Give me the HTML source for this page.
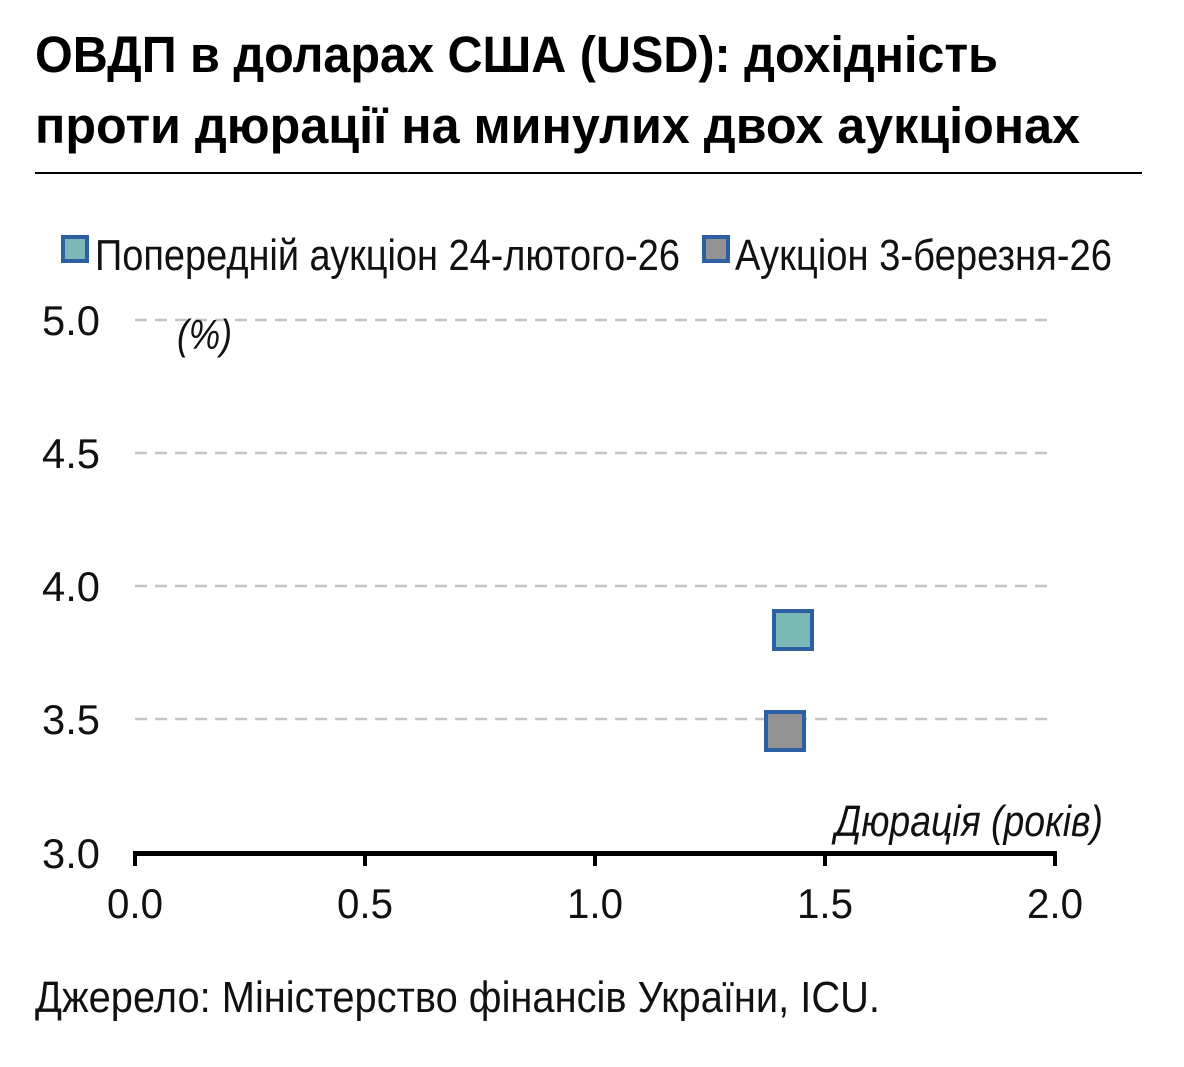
<!DOCTYPE html>
<html><head><meta charset="utf-8"><style>
html,body{margin:0;padding:0;background:#fff;}
svg{display:block;font-family:"Liberation Sans","DejaVu Sans",sans-serif;}
</style></head><body>
<svg width="1184" height="1067" viewBox="0 0 1184 1067" xmlns="http://www.w3.org/2000/svg">
<rect width="1184" height="1067" fill="#fff"/>
<text x="35" y="72" font-size="51" font-weight="bold" fill="#000" textLength="963" lengthAdjust="spacingAndGlyphs">ОВДП в доларах США (USD): дохідність</text>
<text x="35" y="143" font-size="51" font-weight="bold" fill="#000" textLength="1045" lengthAdjust="spacingAndGlyphs">проти дюрації на минулих двох аукціонах</text>
<rect x="35" y="172" width="1107" height="2" fill="#000"/>
<rect x="63" y="237" width="24" height="24" fill="#7ab8b6" stroke="#2e5fa3" stroke-width="4"/>
<text x="95" y="270" font-size="44" fill="#111" textLength="585" lengthAdjust="spacingAndGlyphs">Попередній аукціон 24-лютого-26</text>
<rect x="704" y="237" width="24" height="24" fill="#939393" stroke="#2e5fa3" stroke-width="4"/>
<text x="735" y="270" font-size="44" fill="#111" textLength="377" lengthAdjust="spacingAndGlyphs">Аукціон 3-березня-26</text>
<g stroke="#c4c4c4" stroke-width="2.5" stroke-dasharray="12,8">
<line x1="135" y1="320" x2="1055" y2="320"/>
<line x1="135" y1="453" x2="1055" y2="453"/>
<line x1="135" y1="586" x2="1055" y2="586"/>
<line x1="135" y1="719" x2="1055" y2="719"/>
</g>
<g font-size="42" fill="#111" text-anchor="end">
<text x="100" y="335" textLength="58" lengthAdjust="spacingAndGlyphs">5.0</text>
<text x="100" y="468" textLength="58" lengthAdjust="spacingAndGlyphs">4.5</text>
<text x="100" y="601" textLength="58" lengthAdjust="spacingAndGlyphs">4.0</text>
<text x="100" y="734" textLength="58" lengthAdjust="spacingAndGlyphs">3.5</text>
<text x="100" y="868" textLength="58" lengthAdjust="spacingAndGlyphs">3.0</text>
</g>
<text x="177" y="349" font-size="42" font-style="italic" fill="#111" textLength="55" lengthAdjust="spacingAndGlyphs">(%)</text>
<text x="835" y="836" font-size="44" font-style="italic" fill="#111" textLength="268" lengthAdjust="spacingAndGlyphs">Дюрація (років)</text>
<rect x="133" y="851" width="924" height="5" fill="#000"/>
<g stroke="#000" stroke-width="4">
<line x1="135" y1="851" x2="135" y2="866"/>
<line x1="365" y1="851" x2="365" y2="866"/>
<line x1="595" y1="851" x2="595" y2="866"/>
<line x1="825" y1="851" x2="825" y2="866"/>
<line x1="1055" y1="851" x2="1055" y2="866"/>
</g>
<g font-size="42" fill="#111" text-anchor="middle">
<text x="135" y="918" textLength="56" lengthAdjust="spacingAndGlyphs">0.0</text>
<text x="365" y="918" textLength="56" lengthAdjust="spacingAndGlyphs">0.5</text>
<text x="595" y="918" textLength="56" lengthAdjust="spacingAndGlyphs">1.0</text>
<text x="825" y="918" textLength="56" lengthAdjust="spacingAndGlyphs">1.5</text>
<text x="1055" y="918" textLength="56" lengthAdjust="spacingAndGlyphs">2.0</text>
</g>
<rect x="774" y="611" width="38" height="38" fill="#7ab8b6" stroke="#2e5fa3" stroke-width="4"/>
<rect x="766" y="712" width="38" height="38" fill="#939393" stroke="#2e5fa3" stroke-width="4"/>
<text x="35" y="1012" font-size="44" fill="#111" textLength="845" lengthAdjust="spacingAndGlyphs">Джерело: Міністерство фінансів України, ICU.</text>
</svg>
</body></html>
